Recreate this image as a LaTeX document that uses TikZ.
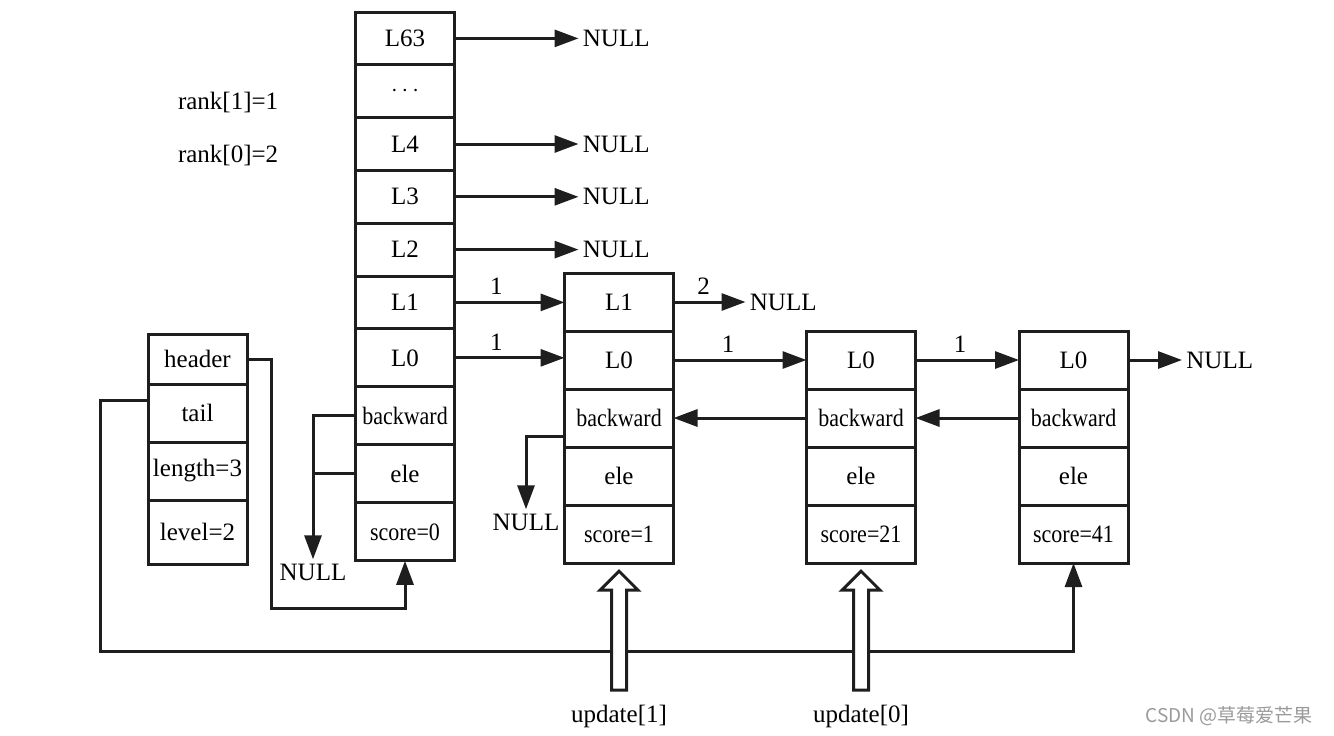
\documentclass[tikz,border=0pt]{standalone}
\usepackage{fontspec}
\usepackage{graphicx}
\setmainfont{Liberation Serif}
\newfontfamily\cjkfont{Noto Sans CJK SC}
\usetikzlibrary{arrows.meta, positioning, shapes.arrows, calc}
\definecolor{ListInk}{HTML}{1E1E1E}
\definecolor{MarkGray}{HTML}{9A9A9A}
\newcommand{\cellfit}[1]{\scalebox{0.88}[1]{#1}}

\begin{document}
\begin{tikzpicture}[x=0.5pt, y=-0.5pt, every node/.style={font=\fontsize{12.5}{14}\selectfont}, >={Triangle[length=12pt, width=8.5pt]}]
      \tikzset{
        cell/.style={rectangle, draw=ListInk, line width=1.5pt, outer sep=0pt, inner sep=1pt, minimum width=49.5pt, minimum height=29pt, align=center},
        lvl/.style={cell, minimum height=26.4pt},
        ncell/.style={cell, minimum width=54.5pt},
        null/.style={inner sep=2pt},
        arrow/.style={->, line width=1.5pt, draw=ListInk},
        link/.style={line width=1.5pt, draw=ListInk},
        num/.style={above, inner sep=3pt},
        updarrow/.style={single arrow, draw=ListInk, fill=white, line width=1.5pt, rotate=90, inner sep=3pt, minimum height=59.5pt, single arrow head extend=5.75pt, anchor=tip},
        wmark/.style={font=\cjkfont\fontsize{9.5}{11}\selectfont, text=MarkGray}
      }
      \useasboundingbox (0,0) rectangle (1334,735);

      \node[anchor=west] (rank1) at (171,102) {rank[1]=1};
      \node[anchor=west] (rank0) at (171,155) {rank[0]=2};

      % header node with its levels
      \node[lvl, anchor=north] (h63) at (405,12) {L63};
      \node[lvl, below=0pt of h63] (hdots) {$\cdots$};
      \node[lvl, below=0pt of hdots] (hL4) {L4};
      \node[lvl, below=0pt of hL4] (hL3) {L3};
      \node[lvl, below=0pt of hL3] (hL2) {L2};
      \node[lvl, below=0pt of hL2] (hL1) {L1};
      \node[cell, below=0pt of hL1] (hL0) {L0};
      \node[cell, below=0pt of hL0] (hbw) {\cellfit{backward}};
      \node[cell, below=0pt of hbw] (hele) {ele};
      \node[cell, below=0pt of hele] (hsc) {\cellfit{score=0}};

      % list struct
      \node[cell, anchor=north, minimum height=25pt] (shead) at (197.5,334) {header};
      \node[cell, below=0pt of shead] (stail) {tail};
      \node[cell, below=0pt of stail] (slen) {length=3};
      \node[cell, below=0pt of slen, minimum height=32pt] (slvl) {level=2};

      % list nodes
      \node[ncell, anchor=north] (n1L1) at (619,273) {L1};
      \node[ncell, below=0pt of n1L1] (n1L0) {L0};
      \node[ncell, below=0pt of n1L0] (n1bw) {\cellfit{backward}};
      \node[ncell, below=0pt of n1bw] (n1ele) {ele};
      \node[ncell, below=0pt of n1ele] (n1sc) {\cellfit{score=1}};

      \node[ncell, anchor=north] (n2L0) at (861,331) {L0};
      \node[ncell, below=0pt of n2L0] (n2bw) {\cellfit{backward}};
      \node[ncell, below=0pt of n2bw] (n2ele) {ele};
      \node[ncell, below=0pt of n2ele] (n2sc) {\cellfit{score=21}};

      \node[ncell, anchor=north] (n3L0) at (1073.5,331) {L0};
      \node[ncell, below=0pt of n3L0] (n3bw) {\cellfit{backward}};
      \node[ncell, below=0pt of n3bw] (n3ele) {ele};
      \node[ncell, below=0pt of n3ele] (n3sc) {\cellfit{score=41}};

      % NULL ends
      \node[null, right=62pt of h63] (nul63) {NULL};
      \node[null, right=62pt of hL4] (nul4) {NULL};
      \node[null, right=62pt of hL3] (nul3) {NULL};
      \node[null, right=62pt of hL2] (nul2) {NULL};
      \node[null, right=36pt of n1L1] (n1nul) {NULL};
      \node[null, right=27pt of n3L0] (n3nul) {NULL};
      \node[null] (hnull) at (313,572) {NULL};
      \node[null] (n1null) at (526,522) {NULL};

      \draw[arrow] (h63) -- (nul63);
      \draw[arrow] (hL4) -- (nul4);
      \draw[arrow] (hL3) -- (nul3);
      \draw[arrow] (hL2) -- (nul2);
      \draw[arrow] (hL1) -- (hL1 -| n1L1.west) node[num, pos=.38] {1};
      \draw[arrow] (hL0) -- (hL0 -| n1L0.west) node[num, pos=.38] {1};
      \draw[arrow] (n1L1) -- (n1nul) node[num, pos=.42] {2};
      \draw[arrow] (n1L0) -- (n2L0) node[num, pos=.41] {1};
      \draw[arrow] (n2L0) -- (n3L0) node[num, pos=.43] {1};
      \draw[arrow] (n3L0) -- (n3nul);
      \draw[arrow] (n2bw) -- (n1bw);
      \draw[arrow] (n3bw) -- (n2bw);
      \draw[arrow] (hbw.west) -| (hnull.north);
      \draw[link] (hele.west) -- (hele.west -| hnull.north);
      \draw[arrow] ([yshift=-9pt]n1bw.west) -| (n1null.north);

      \draw[arrow] (shead.east) -- ++(12pt,0) |- ([yshift=-24pt]hsc.south) -- (hsc.south);
      \draw[arrow] ([yshift=6.5pt]stail.west) -- ++(-24pt,0) |- ([yshift=-44pt]n3sc.south) -- (n3sc.south);

      % update pointers
      \node[updarrow] (ua1) at ([yshift=-3pt]n1sc.south) {};
      \node[updarrow] (ua0) at ([yshift=-3pt]n2sc.south) {};
      \node[anchor=north] (upd1) at ([yshift=-3pt]ua1.tail) {update[1]};
      \node[anchor=north] (upd0) at ([yshift=-3pt]ua0.tail) {update[0]};

      \node[wmark, anchor=east] (csdn) at (1320,716) {CSDN @草莓爱芒果};
    \end{tikzpicture}
\end{document}
